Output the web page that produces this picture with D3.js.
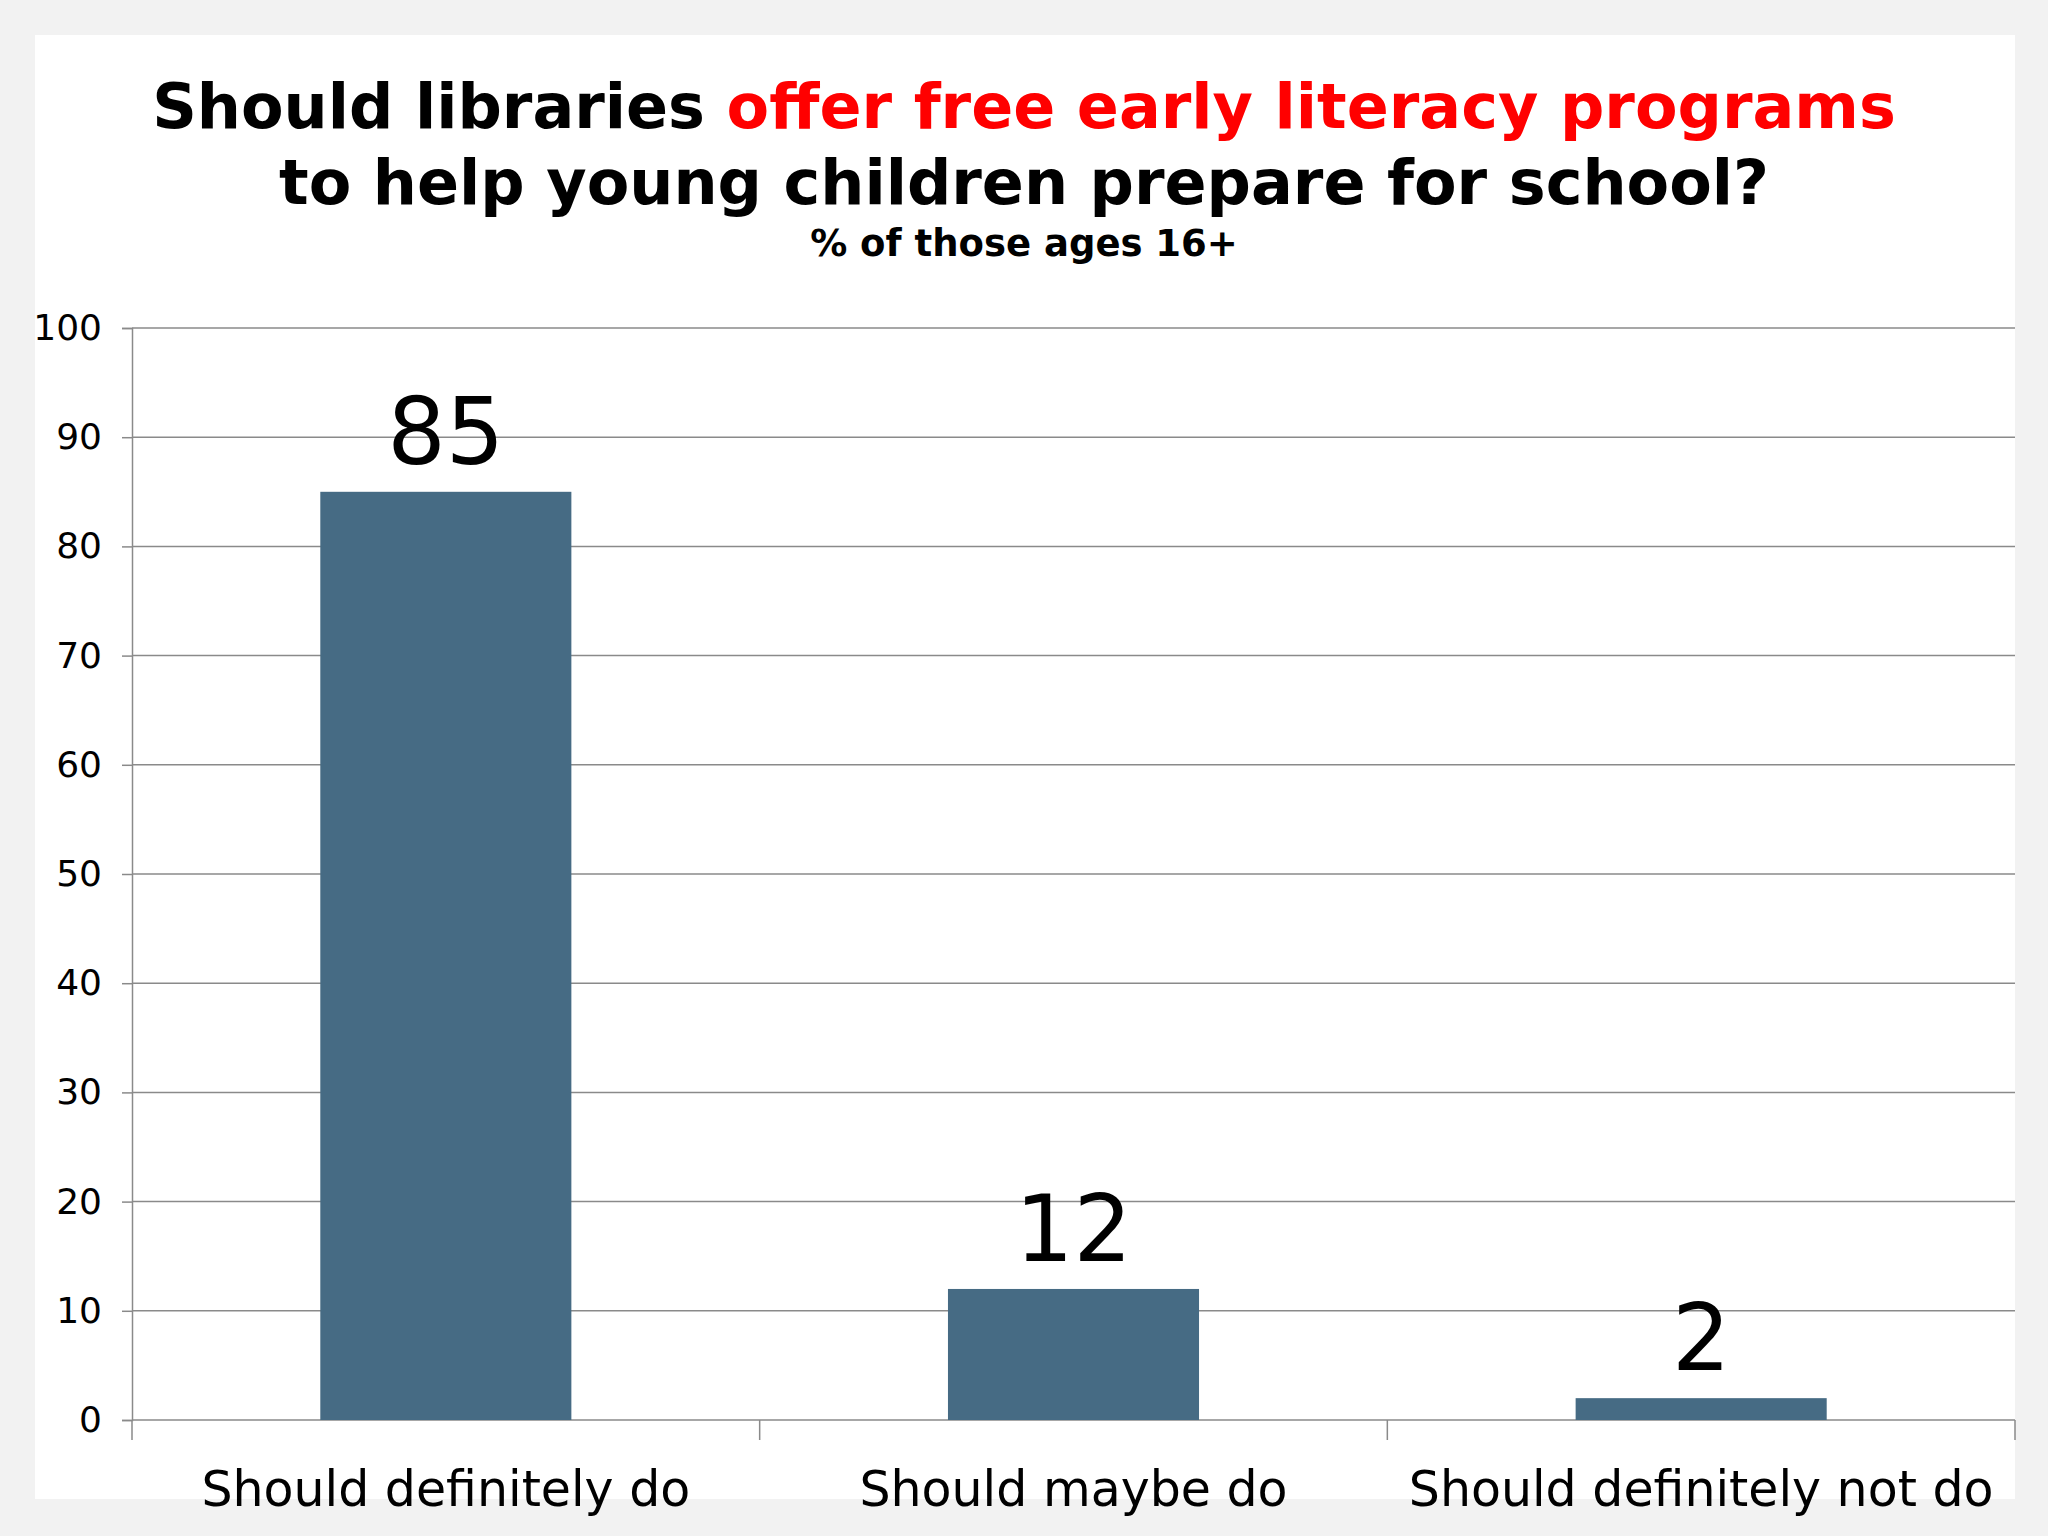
<!DOCTYPE html>
<html><head><meta charset="utf-8">
<script src="https://cdn.jsdelivr.net/npm/d3@7"></script>
<style>body{margin:0;background:#f2f2f2}</style></head>
<body><svg id="c" width="2048" height="1536"></svg>
<script>
const categories = ["Should definitely do","Should maybe do","Should definitely not do"];
const values = [85, 12, 2];
const yTicks = [0,10,20,30,40,50,60,70,80,90,100];

const svg = d3.select("#c");
const font = "Verdana, 'DejaVu Sans', sans-serif";
svg.append("rect").attr("width",2048).attr("height",1536).attr("fill","#f2f2f2");
svg.append("rect").attr("x",35).attr("y",35).attr("width",1980).attr("height",1464).attr("fill","#fff");

const L=132, R=2015, T=328, B=1420;
const x = d3.scaleBand().domain(categories).range([L,R]).paddingInner(0.6).paddingOuter(0.3);
const xb = d3.scaleBand().domain(categories).range([L,R]);
const y = d3.scaleLinear().domain([0,100]).range([B,T]);

// gridlines
svg.append("g").selectAll("line").data(yTicks.filter(d=>d>0)).join("line")
  .attr("x1",L).attr("x2",R).attr("y1",d=>y(d)).attr("y2",d=>y(d))
  .attr("stroke","#8a8a8a").attr("stroke-width",1.5);
// y axis
const ya = svg.append("g").attr("transform",`translate(${L},0)`)
  .call(d3.axisLeft(y).tickValues(yTicks).tickSize(10).tickPadding(20));
ya.selectAll("text").attr("font-family",font).attr("font-size",36).attr("fill","#000");
ya.selectAll("line,path").attr("stroke","#8a8a8a").attr("stroke-width",1.5);
// x axis
const xa = svg.append("g").attr("transform",`translate(0,${B})`);
xa.append("line").attr("x1",L).attr("x2",R).attr("stroke","#8a8a8a").attr("stroke-width",1.5);
xa.selectAll("line.t").data([...categories.map(c=>xb(c)), R]).join("line").attr("class","t")
  .attr("x1",d=>d).attr("x2",d=>d).attr("y1",0).attr("y2",20).attr("stroke","#8a8a8a").attr("stroke-width",1.5);
xa.selectAll("text").data(categories).join("text")
  .attr("x",d=>xb(d)+xb.bandwidth()/2).attr("y",86).attr("text-anchor","middle")
  .attr("font-family",font).attr("font-size",49).text(d=>d);

// bars
svg.append("g").selectAll("rect").data(values).join("rect")
  .attr("x",(d,i)=>x(categories[i])).attr("width",x.bandwidth())
  .attr("y",d=>y(d)).attr("height",d=>B-y(d)).attr("fill","#466b84");
svg.append("g").selectAll("text").data(values).join("text")
  .attr("x",(d,i)=>x(categories[i])+x.bandwidth()/2).attr("y",d=>y(d)-28)
  .attr("text-anchor","middle").attr("font-family",font).attr("font-size",92).text(d=>d);

// titles
const t1 = svg.append("text").attr("x",1024).attr("y",128).attr("text-anchor","middle")
  .attr("font-family",font).attr("font-weight","bold").attr("font-size",62);
t1.append("tspan").text("Should libraries ");
t1.append("tspan").attr("fill","#ff0000").text("offer free early literacy programs");
svg.append("text").attr("x",1024).attr("y",204).attr("text-anchor","middle")
  .attr("font-family",font).attr("font-weight","bold").attr("font-size",62)
  .text("to help young children prepare for school?");
svg.append("text").attr("x",1024).attr("y",256).attr("text-anchor","middle")
  .attr("font-family",font).attr("font-weight","bold").attr("font-size",37)
  .text("% of those ages 16+");
</script></body></html>
